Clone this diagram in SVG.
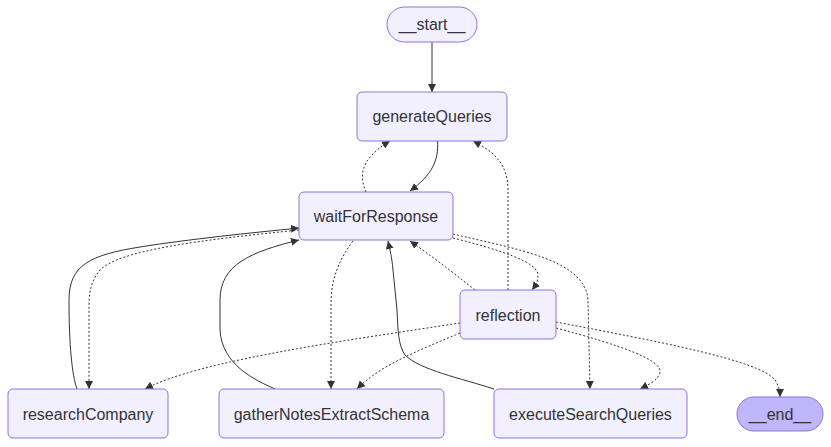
<svg xmlns="http://www.w3.org/2000/svg" width="831" height="447" viewBox="0 0 831 447">
<defs>
<marker id="arr" viewBox="0 0 10 10" refX="10" refY="5" markerWidth="8" markerHeight="8" markerUnits="userSpaceOnUse" orient="auto">
<path d="M0,0 L10,5 L0,10 z" fill="#333333"/>
</marker>
<style>
.node rect{fill:#f2f0ff;stroke:#9370db;stroke-width:1}
.node.term rect{fill:#bfb6fc}
.node text{font-family:"Liberation Sans",Arial,sans-serif;font-size:16px;fill:#333333;text-anchor:middle}
.edges path{fill:none;stroke:#333333;stroke-width:1;marker-end:url(#arr)}
.edges path.dot{stroke-dasharray:2 2}
</style>
</defs>
<rect width="831" height="447" fill="#ffffff"/>
<g class="edges" id="edges">
<path d="M432,42 L432,92"/>
<path d="M437.5,141 C439,160 432,175 410,191"/>
<path class="dot" d="M366,192 C360,178 358,160 390,141"/>
<path class="dot" d="M508,290 L508,190 C508,165 495,152 473,141"/>
<path class="dot" d="M475,290 C450,270 430,255 410,241"/>
<path class="dot" d="M453,238 C500,250 538,262 538,275 C538,282 535,286 532,290"/>
<path class="dot" d="M453,234 C520,250 585,260 588,300 L590,389"/>
<path class="dot" d="M556,328 C620,345 662,360 660,372 C659,380 648,385 640,389"/>
<path class="dot" d="M556,322 C650,340 760,360 775,380 C779,386 780,392 780,397"/>
<path class="dot" d="M460,323 C350,340 200,360 145,389"/>
<path class="dot" d="M460,333 C420,350 380,365 357,389"/>
<path class="dot" d="M353,241 C335,265 331,285 331,305 L331,389"/>
<path class="dot" d="M299,230 C200,240 120,250 100,270 C92,280 89,290 89,305 L89,389"/>
<path d="M77,389 C72,375 69,345 69,300 C69,265 90,255 140,247 C190,239 250,233 299,228"/>
<path d="M275,389 C255,380 222,365 220,330 L220,300 C220,265 250,252 299,240"/>
<path d="M494,389 C460,378 420,370 405,355 C398,345 398,330 397,310 L393,270 C392,258 390,250 388,241"/>
</g>
<g class="node" id="start"><rect x="387" y="7" width="90" height="35" rx="17.5"/><text x="432" y="30">__start__</text></g>
<g class="node" id="generateQueries"><rect x="357" y="92" width="150" height="49" rx="5"/><text x="432" y="122">generateQueries</text></g>
<g class="node" id="waitForResponse"><rect x="299" y="192" width="154" height="48" rx="5"/><text x="376" y="222">waitForResponse</text></g>
<g class="node" id="reflection"><rect x="460" y="290" width="96" height="49" rx="5"/><text x="508" y="321">reflection</text></g>
<g class="node" id="researchCompany"><rect x="8" y="389" width="160" height="49" rx="5"/><text x="88" y="420">researchCompany</text></g>
<g class="node" id="gatherNotesExtractSchema"><rect x="219" y="389" width="225" height="49" rx="5"/><text x="331.5" y="420">gatherNotesExtractSchema</text></g>
<g class="node" id="executeSearchQueries"><rect x="494" y="389" width="193" height="49" rx="5"/><text x="590.5" y="420">executeSearchQueries</text></g>
<g class="node term" id="end"><rect x="737" y="397" width="86" height="34" rx="17"/><text x="780" y="420">__end__</text></g>
</svg>
